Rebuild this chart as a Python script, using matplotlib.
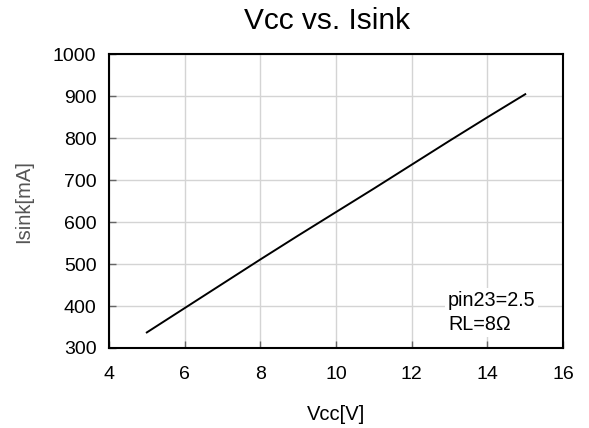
import matplotlib
matplotlib.use("Agg")
import matplotlib.pyplot as plt

plt.rcParams['font.family'] = ['Liberation Sans', 'DejaVu Sans']

# données
vcc = [5, 6, 7, 8, 9, 10, 11, 12, 13, 14, 15]
isink = [337, 395, 453, 511, 568, 624, 680, 737, 794, 850, 905]

xticks = [4, 6, 8, 10, 12, 14, 16]
yticks = [300, 400, 500, 600, 700, 800, 900, 1000]

fig = plt.figure(figsize=(5.89, 4.28), dpi=100)
ax = fig.add_axes([0.185, 0.187, 0.771, 0.686])

ax.plot(vcc, isink, color='black', lw=1.4)

ax.set_xlim(4, 16)
ax.set_ylim(300, 1000)
ax.set_xticks(xticks)
ax.set_yticks(yticks)
ax.grid(True, color='#d4d4d4', lw=1)
ax.tick_params(direction='in', length=5, width=1, color='#666666',
               labelsize=14)
ax.tick_params(axis='x', pad=13)
ax.tick_params(axis='y', pad=9)
for s in ax.spines.values():
    s.set_linewidth(1.5)
    s.set_color('black')

ax.set_title("Vcc vs. Isink", fontsize=21.5, pad=18, x=0.48)
ax.set_xlabel("Vcc[V]", fontsize=14.5, labelpad=16)
ax.set_ylabel("Isink[mA]", fontsize=14.5, color='#555555', labelpad=14)

ax.text(12.96, 384, "pin23=2.5\nRL=8Ω", fontsize=14.2, ha='left', va='center',
        linespacing=1.35, bbox=dict(facecolor='white', edgecolor='none', pad=2))

fig.savefig("out.png", dpi=100)
